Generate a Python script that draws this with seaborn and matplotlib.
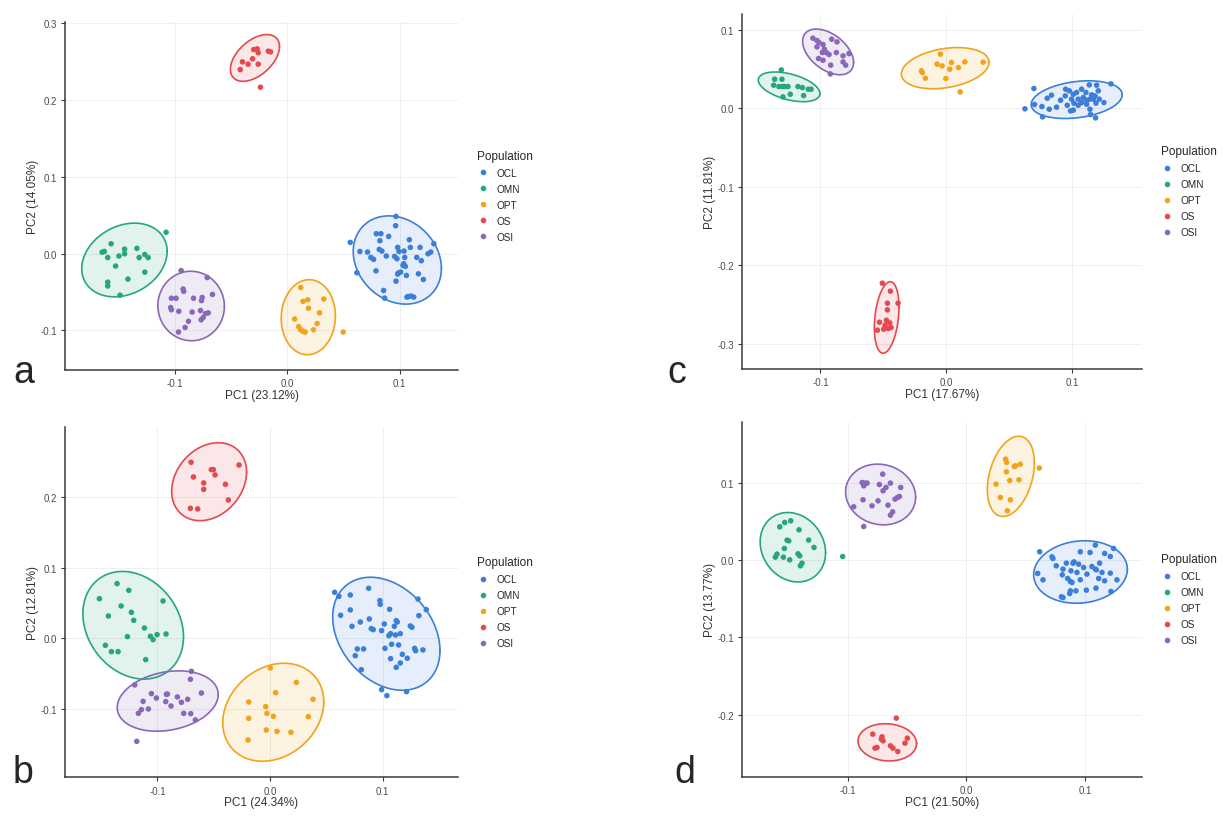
import numpy as np
import pandas as pd
import seaborn as sns
import matplotlib.pyplot as plt

sns.set_theme(style="white")
plt.rcParams["font.family"] = ["Liberation Sans", "DejaVu Sans"]
plt.rcParams["axes.unicode_minus"] = False

pops = ["OCL", "OMN", "OPT", "OS", "OSI"]
cores = {"OCL": "#3B7FD9", "OMN": "#25A879", "OPT": "#F2A31B",
         "OS": "#E5484D", "OSI": "#8A67B8"}

# variancia explicada (PC1, PC2) de cada painel
var_pc = {"a": ("23.12", "14.05"), "b": ("24.34", "12.81"),
          "c": ("17.67", "11.81"), "d": ("21.50", "13.77")}

# ---------------- painel a ----------------
a_ocl = [(0.0967, 0.0487), (0.0964, 0.0365), (0.0792, 0.0261), (0.0833, 0.0261), (0.0902, 0.0226),
         (0.0824, 0.0170), (0.1086, 0.0183), (0.0560, 0.0148), (0.1304, 0.0130), (0.0646, 0.0030),
         (0.0714, 0.0022), (0.0744, -0.0048), (0.0768, -0.0074), (0.0818, 0.0057), (0.0842, 0.0035),
         (0.0881, -0.0030), (0.0982, 0.0083), (0.0994, 0.0030), (0.1039, 0.0035), (0.1095, 0.0083),
         (0.1182, 0.0083), (0.0955, -0.0035), (0.0976, -0.0065), (0.1045, -0.0048), (0.1036, -0.0130),
         (0.1051, -0.0165), (0.1030, -0.0152), (0.1152, -0.0048), (0.1193, -0.0091), (0.1253, 0.0000),
         (0.1277, 0.0022), (0.0789, -0.0222), (0.0619, -0.0248), (0.0991, -0.0248), (0.0982, -0.0265),
         (0.1009, -0.0239), (0.1060, -0.0283), (0.1167, -0.0261), (0.1211, -0.0335), (0.0967, -0.0357),
         (0.0857, -0.0478), (0.0866, -0.0578), (0.1077, -0.0557), (0.1101, -0.0552), (0.1125, -0.0565),
         (0.1065, -0.0565)]
a_omn = [(-0.165, 0.002), (-0.163, 0.003), (-0.157, 0.013), (-0.160, -0.005), (-0.150, -0.003),
         (-0.145, 0.006), (-0.145, 0.000), (-0.134, 0.007), (-0.132, -0.005), (-0.127, -0.001),
         (-0.124, -0.005), (-0.153, -0.016), (-0.142, -0.033), (-0.127, -0.024), (-0.160, -0.037),
         (-0.160, -0.042), (-0.149, -0.054), (-0.108, 0.028)]
a_opt = [(0.0119, -0.044), (0.0140, -0.062), (0.0182, -0.060), (0.0324, -0.059), (0.0188, -0.071),
         (0.0286, -0.077), (0.0065, -0.085), (0.0265, -0.091), (0.0101, -0.095), (0.0119, -0.099),
         (0.0137, -0.101), (0.0158, -0.102), (0.0232, -0.099), (0.0497, -0.102)]
a_os = [(-0.042, 0.240), (-0.040, 0.250), (-0.035, 0.247), (-0.031, 0.254), (-0.026, 0.247),
        (-0.030, 0.266), (-0.027, 0.267), (-0.026, 0.262), (-0.017, 0.264), (-0.015, 0.263),
        (-0.024, 0.217)]
a_osi = [(-0.0946, -0.022), (-0.0714, -0.031), (-0.0929, -0.046), (-0.0923, -0.049), (-0.1033, -0.058),
         (-0.0991, -0.058), (-0.0836, -0.058), (-0.0759, -0.057), (-0.0765, -0.061), (-0.0667, -0.053),
         (-0.1039, -0.070), (-0.1033, -0.073), (-0.0967, -0.075), (-0.0848, -0.076), (-0.0774, -0.074),
         (-0.0729, -0.078), (-0.0705, -0.077), (-0.0750, -0.083), (-0.0768, -0.086), (-0.0881, -0.088),
         (-0.0911, -0.096), (-0.0970, -0.102)]

# ---------------- painel b ----------------
b_ocl = [(0.0574, 0.0652), (0.0612, 0.0595), (0.0713, 0.0614), (0.0876, 0.0709), (0.0976, 0.0534),
         (0.0979, 0.0482), (0.1062, 0.0411), (0.1314, 0.0557), (0.1388, 0.0406), (0.0627, 0.0326),
         (0.0713, 0.0402), (0.0728, 0.0170), (0.0802, 0.0231), (0.0882, 0.0274), (0.0899, 0.0137),
         (0.0917, 0.0123), (0.0991, 0.0109), (0.1015, 0.0203), (0.1121, 0.0250), (0.1130, 0.0231),
         (0.1104, 0.0170), (0.1071, 0.0066), (0.1115, 0.0047), (0.1157, 0.0066), (0.1056, 0.0038),
         (0.1246, 0.0175), (0.1260, 0.0156), (0.1322, 0.0321), (0.0775, -0.0151), (0.0831, -0.0151),
         (0.1021, -0.0142), (0.1080, -0.0085), (0.1142, -0.0094), (0.1284, -0.0142), (0.1293, -0.0175),
         (0.1358, -0.0165), (0.1175, -0.0227), (0.1071, -0.0288), (0.1121, -0.0411), (0.1157, -0.0350),
         (0.1219, -0.0283), (0.0757, -0.0246), (0.0811, -0.0444), (0.0991, -0.0727), (0.1038, -0.0812),
         (0.1213, -0.0756)]
b_omn = [(-0.1358, 0.0775), (-0.1254, 0.0680), (-0.1515, 0.0562), (-0.1322, 0.0458), (-0.0950, 0.0529),
         (-0.1435, 0.0316), (-0.1231, 0.0368), (-0.1210, 0.0255), (-0.1115, 0.0146), (-0.1266, 0.0024),
         (-0.1062, 0.0028), (-0.1038, -0.0019), (-0.1003, 0.0052), (-0.0923, 0.0061), (-0.1462, -0.0099),
         (-0.1408, -0.0189), (-0.1349, -0.0189), (-0.1104, -0.0302)]
b_opt = [(0.0003, -0.0420), (0.0234, -0.0624), (0.0050, -0.0770), (0.0382, -0.0864), (-0.0189, -0.0902),
         (-0.0038, -0.0968), (-0.0027, -0.1063), (0.0030, -0.1105), (0.0340, -0.1110), (-0.0189, -0.1134),
         (-0.0033, -0.1299), (0.0062, -0.1318), (0.0186, -0.1332), (-0.0195, -0.1441)]
b_os = [(-0.0701, 0.2494), (-0.0521, 0.2390), (-0.0503, 0.2390), (-0.0488, 0.2315), (-0.0680, 0.2286),
        (-0.0589, 0.2201), (-0.0589, 0.2111), (-0.0396, 0.2182), (-0.0275, 0.2456), (-0.0370, 0.1960),
        (-0.0707, 0.1842), (-0.0642, 0.1833)]
b_osi = [(-0.0698, -0.0468), (-0.0707, -0.0581), (-0.1201, -0.0661), (-0.1053, -0.0784), (-0.1009, -0.0846),
         (-0.0920, -0.0794), (-0.0911, -0.0790), (-0.0822, -0.0831), (-0.0731, -0.0864), (-0.0609, -0.0775),
         (-0.1127, -0.0893), (-0.0926, -0.0897), (-0.0879, -0.0959), (-0.0787, -0.0907), (-0.1142, -0.1011),
         (-0.1169, -0.1063), (-0.1080, -0.1001), (-0.0766, -0.1063), (-0.0704, -0.1068), (-0.0663, -0.1157),
         (-0.1183, -0.1460)]

# ---------------- painel c ----------------
c_ocl = [(0.0694, 0.0251), (0.0623, -0.0008), (0.0699, 0.0047), (0.0763, -0.0110), (0.0758, 0.0021),
         (0.0816, -0.0013), (0.0874, 0.0013), (0.0800, 0.0127), (0.0834, 0.0166), (0.0906, 0.0102),
         (0.0943, 0.0157), (0.0946, 0.0242), (0.0975, 0.0221), (0.1007, 0.0178), (0.1033, 0.0200),
         (0.1012, 0.0064), (0.0985, -0.0034), (0.1007, -0.0025), (0.1046, 0.0115), (0.1073, 0.0242),
         (0.1086, 0.0136), (0.1107, 0.0200), (0.1113, 0.0102), (0.1139, 0.0115), (0.1134, 0.0297),
         (0.1152, 0.0170), (0.1166, 0.0115), (0.1179, 0.0157), (0.1192, 0.0293), (0.1205, 0.0221),
         (0.1213, 0.0115), (0.1187, 0.0064), (0.1250, 0.0072), (0.1306, 0.0310), (0.1139, -0.0013),
         (0.1144, -0.0081), (0.1184, -0.0123), (0.1073, 0.0072), (0.1046, 0.0038), (0.1113, 0.0051),
         (0.0959, 0.0038), (0.0993, 0.0115)]
c_omn = [(-0.1311, 0.0488), (-0.1364, 0.0369), (-0.1306, 0.0369), (-0.1372, 0.0293), (-0.1330, 0.0276),
         (-0.1303, 0.0276), (-0.1285, 0.0276), (-0.1258, 0.0276), (-0.1179, 0.0276), (-0.1144, 0.0263),
         (-0.1097, 0.0242), (-0.1075, 0.0242), (-0.1298, 0.0144), (-0.1240, 0.0178), (-0.1134, 0.0161)]
c_opt = [(-0.0048, 0.0688), (-0.0199, 0.0476), (-0.0191, 0.0454), (-0.0167, 0.0382), (-0.0074, 0.0561),
         (-0.0034, 0.0539), (0.0040, 0.0582), (0.0026, 0.0497), (0.0095, 0.0518), (0.0146, 0.0590),
         (0.0291, 0.0586), (-0.0005, 0.0378), (0.0109, 0.0208)]
c_os = [(-0.0509, -0.2229), (-0.0445, -0.2331), (-0.0469, -0.2484), (-0.0384, -0.2484), (-0.0469, -0.2569),
        (-0.0532, -0.2726), (-0.0477, -0.2701), (-0.0450, -0.2735), (-0.0487, -0.2764), (-0.0440, -0.2794),
        (-0.0461, -0.2807), (-0.0548, -0.2828), (-0.0498, -0.2815)]
c_osi = [(-0.1060, 0.0892), (-0.1028, 0.0862), (-0.1012, 0.0837), (-0.1028, 0.0781), (-0.0980, 0.0811),
         (-0.0969, 0.0752), (-0.0985, 0.0709), (-0.0954, 0.0709), (-0.1015, 0.0633), (-0.0980, 0.0611),
         (-0.0911, 0.0879), (-0.0869, 0.0845), (-0.0932, 0.0684), (-0.0874, 0.0709), (-0.0821, 0.0667),
         (-0.0774, 0.0696), (-0.0821, 0.0590), (-0.0800, 0.0548), (-0.0919, 0.0548), (-0.0922, 0.0437)]

# ---------------- painel d ----------------
d_ocl = [(0.1089, 0.0194), (0.0962, 0.0108), (0.1044, 0.0099), (0.1167, 0.0086), (0.1243, 0.0151),
         (0.0619, 0.0108), (0.0723, 0.0043), (0.0731, 0.0022), (0.0759, -0.0073), (0.0844, -0.0039),
         (0.0909, -0.0022), (0.0900, -0.0039), (0.0948, -0.0052), (0.0990, -0.0095), (0.1060, -0.0082),
         (0.1089, -0.0116), (0.1097, -0.0125), (0.1125, -0.0039), (0.1145, -0.0159), (0.1215, 0.0047),
         (0.1215, -0.0168), (0.1271, -0.0254), (0.0816, -0.0116), (0.0810, -0.0190), (0.0883, -0.0138),
         (0.0934, -0.0159), (0.1018, -0.0181), (0.0855, -0.0237), (0.0878, -0.0276), (0.0892, -0.0289),
         (0.0962, -0.0254), (0.1117, -0.0237), (0.1167, -0.0267), (0.0602, -0.0172), (0.0647, -0.0254),
         (0.0878, -0.0397), (0.0925, -0.0397), (0.1013, -0.0388), (0.1094, -0.0362), (0.1221, -0.0405),
         (0.0802, -0.0474), (0.0816, -0.0483), (0.0872, -0.0431)]
d_omn = [(-0.1575, 0.0431), (-0.1533, 0.0487), (-0.1482, 0.0509), (-0.1412, 0.0392), (-0.1513, 0.0259),
         (-0.1499, 0.0250), (-0.1331, 0.0259), (-0.1286, 0.0164), (-0.1536, 0.0151), (-0.1421, 0.0082),
         (-0.1406, 0.0056), (-0.1598, 0.0078), (-0.1612, 0.0039), (-0.1544, 0.0039), (-0.1491, 0.0004),
         (-0.1387, -0.0039), (-0.1401, -0.0073), (-0.1044, 0.0047)]
d_opt = [(0.0332, 0.1306), (0.0340, 0.1263), (0.0338, 0.1142), (0.0405, 0.1211), (0.0416, 0.1220),
         (0.0456, 0.1241), (0.0366, 0.1030), (0.0444, 0.1039), (0.0250, 0.0983), (0.0287, 0.0810),
         (0.0371, 0.0780), (0.0346, 0.0638), (0.0616, 0.1190)]
d_os = [(-0.0591, -0.2043), (-0.0790, -0.2250), (-0.0712, -0.2284), (-0.0703, -0.2336), (-0.0717, -0.2315),
        (-0.0498, -0.2302), (-0.0518, -0.2366), (-0.0771, -0.2431), (-0.0754, -0.2422), (-0.0641, -0.2401),
        (-0.0619, -0.2431), (-0.0579, -0.2474)]
d_osi = [(-0.0706, 0.1112), (-0.0880, 0.1004), (-0.0858, 0.0996), (-0.0838, 0.0996), (-0.0866, 0.0961),
         (-0.0734, 0.0978), (-0.0641, 0.0996), (-0.0678, 0.0940), (-0.0703, 0.0897), (-0.0554, 0.0940),
         (-0.0872, 0.0780), (-0.0745, 0.0767), (-0.0602, 0.0789), (-0.0582, 0.0810), (-0.0565, 0.0823),
         (-0.0661, 0.0711), (-0.0796, 0.0703), (-0.0622, 0.0625), (-0.0641, 0.0582), (-0.0951, 0.0690),
         (-0.0866, 0.0435)]

paineis = {
    "a": [a_ocl, a_omn, a_opt, a_os, a_osi],
    "b": [b_ocl, b_omn, b_opt, b_os, b_osi],
    "c": [c_ocl, c_omn, c_opt, c_os, c_osi],
    "d": [d_ocl, d_omn, d_opt, d_os, d_osi],
}


def cov_trob(X, nu=5, maxit=25, tol=0.01):
    # mesma ideia do MASS::cov.trob usado pelo stat_ellipse
    n, p = X.shape
    wt = np.ones(n)
    loc = X.mean(axis=0)
    w = np.sqrt(wt)
    for _ in range(maxit):
        w0 = w
        Xc = X - loc
        _, d, vt = np.linalg.svd(np.sqrt(w / w.sum())[:, None] * Xc, full_matrices=False)
        wX = Xc @ vt.T @ np.diag(1 / d)
        Q = (wX ** 2).sum(axis=1)
        w = wt * (nu + p) / (nu + Q)
        loc = (w[:, None] * X).sum(axis=0) / w.sum()
        if np.all(np.abs(w - w0) < tol):
            break
    sw = np.sqrt(w)[:, None] * Xc
    return loc, sw.T @ sw / wt.sum()


def elipse(X, level=0.95, seg=80):
    loc, cov = cov_trob(X)
    R = np.linalg.cholesky(cov).T
    m = len(X) - 1
    fq = (m / 2) * ((1 - level) ** (-2 / m) - 1)  # quantil F(2, m)
    r = np.sqrt(2 * fq)
    t = np.linspace(0, 2 * np.pi, seg + 1)
    circ = np.column_stack([np.cos(t), np.sin(t)])
    return loc + r * circ @ R


# posicoes dos eixos [esq, baixo, larg, alt] em fracao da figura
pos = {"a": [0.0528, 0.548, 0.319, 0.424], "c": [0.6026, 0.549, 0.3241, 0.4327],
       "b": [0.0528, 0.0508, 0.319, 0.4269], "d": [0.6026, 0.0516, 0.3241, 0.4329]}
lims = {"a": ((-0.198, 0.152), (-0.151, 0.302)), "c": ((-0.162, 0.155), (-0.332, 0.120)),
        "b": ((-0.182, 0.167), (-0.197, 0.299)), "d": ((-0.189, 0.148), (-0.280, 0.179))}
yt = {"a": [-0.1, 0.0, 0.1, 0.2, 0.3], "c": [-0.3, -0.2, -0.1, 0.0, 0.1],
      "b": [-0.1, 0.0, 0.1, 0.2], "d": [-0.2, -0.1, 0.0, 0.1]}
letras = {"a": (0.019, 0.533), "c": (0.549, 0.533), "b": (0.019, 0.045), "d": (0.556, 0.045)}

fig = plt.figure(figsize=(12.32, 8.2), dpi=100)

for k, grupos in paineis.items():
    ax = fig.add_axes(pos[k])
    linhas = []
    for pop, pts in zip(pops, grupos):
        for x, y in pts:
            linhas.append({"PC1": x, "PC2": y, "Population": pop})
    df = pd.DataFrame(linhas)

    for pop in pops:
        sub = df[df["Population"] == pop][["PC1", "PC2"]].to_numpy()
        e = elipse(sub)
        ax.fill(e[:, 0], e[:, 1], color=cores[pop], alpha=0.13, lw=0, zorder=2)
        ax.plot(e[:, 0], e[:, 1], color=cores[pop], lw=1.2, zorder=3)

    sns.scatterplot(data=df, x="PC1", y="PC2", hue="Population", hue_order=pops,
                    palette=cores, s=16, linewidth=0, ax=ax, zorder=4)

    ax.set_xlim(*lims[k][0])
    ax.set_ylim(*lims[k][1])
    ax.set_xticks([-0.1, 0.0, 0.1])
    ax.set_xticklabels(["-0.1", "0.0", "0.1"])
    ax.set_yticks(yt[k])
    ax.set_yticklabels([f"{v:.1f}" for v in yt[k]])
    ax.grid(True, color="#EFEFEF", lw=0.7)
    ax.set_axisbelow(True)
    for s in ["top", "right"]:
        ax.spines[s].set_visible(False)
    for s in ["left", "bottom"]:
        ax.spines[s].set_color("#3A3A3A")
        ax.spines[s].set_linewidth(1.1)
    ax.tick_params(length=3, width=0.8, color="#3A3A3A", labelsize=7, labelcolor="#4D4D4D",
                   pad=3, left=True, bottom=True)
    ax.set_xlabel(f"PC1 ({var_pc[k][0]}%)", fontsize=8.5, color="#333333", labelpad=0.5)
    ax.set_ylabel(f"PC2 ({var_pc[k][1]}%)", fontsize=8.5, color="#333333", labelpad=1)

    sns.move_legend(ax, "center left", bbox_to_anchor=(1.035, 0.5), frameon=False,
                    title="Population", fontsize=7.2, title_fontsize=8.5, borderpad=0,
                    labelspacing=0.6, handlelength=1.3, handletextpad=0.7, alignment="left")
    fig.text(letras[k][0], letras[k][1], k, fontsize=27, ha="center", va="baseline")

fig.savefig("out.png", dpi=100)
